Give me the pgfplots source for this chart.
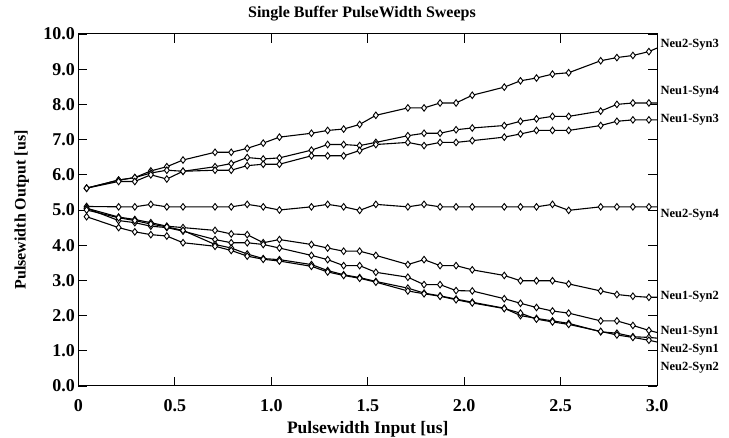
\documentclass[border=0pt]{standalone}
\usepackage{fontspec}
\setmainfont{Liberation Serif}
\usepackage{pgfplots}
\usepackage{pgfplotstable}
\pgfplotsset{compat=1.18}

\pgfplotstableread{
x     n2s3 n1s4 n1s3 n2s4 n1s2 n1s1 n2s1 n2s2
0.042 5.62 5.62 5.62 5.10 5.05 5.05 5.00 4.81
0.208 5.85 5.85 5.81 5.09 4.80 4.70 4.78 4.50
0.292 5.92 5.92 5.81 5.09 4.73 4.64 4.70 4.38
0.375 6.11 6.05 6.00 5.16 4.64 4.54 4.60 4.30
0.458 6.23 6.13 5.88 5.09 4.54 4.50 4.52 4.26
0.542 6.42 6.10 6.10 5.09 4.50 4.40 4.42 4.07
0.708 6.64 6.23 6.13 5.09 4.42 4.16 4.02 3.97
0.792 6.64 6.32 6.13 5.09 4.32 4.07 3.92 3.85
0.875 6.75 6.49 6.26 5.16 4.30 4.07 3.75 3.69
0.958 6.90 6.45 6.30 5.09 4.07 4.02 3.62 3.60
1.042 7.07 6.48 6.30 5.00 4.16 3.92 3.59 3.55
1.208 7.18 6.70 6.54 5.09 4.02 3.71 3.45 3.40
1.292 7.26 6.86 6.54 5.16 3.92 3.59 3.28 3.24
1.375 7.30 6.86 6.54 5.09 3.83 3.42 3.16 3.14
1.458 7.43 6.83 6.69 4.99 3.83 3.42 3.08 3.06
1.542 7.69 6.92 6.86 5.16 3.71 3.23 2.97 2.95
1.708 7.90 7.11 6.92 5.09 3.45 3.09 2.78 2.70
1.792 7.90 7.18 6.83 5.16 3.59 2.88 2.64 2.62
1.875 8.04 7.18 6.92 5.09 3.42 2.88 2.56 2.55
1.958 8.04 7.28 6.92 5.09 3.42 2.71 2.47 2.45
2.042 8.26 7.33 6.97 5.09 3.30 2.70 2.38 2.36
2.208 8.49 7.40 7.07 5.09 3.14 2.48 2.21 2.20
2.292 8.67 7.52 7.16 5.09 2.99 2.35 2.00 2.07
2.375 8.75 7.59 7.26 5.09 2.99 2.23 1.92 1.90
2.458 8.86 7.66 7.26 5.16 2.99 2.13 1.85 1.82
2.542 8.90 7.66 7.26 4.99 2.90 2.07 1.78 1.75
2.708 9.24 7.81 7.40 5.09 2.70 1.85 1.54 1.55
2.792 9.33 8.00 7.52 5.09 2.60 1.85 1.50 1.45
2.875 9.39 8.04 7.56 5.09 2.55 1.72 1.40 1.38
2.958 9.50 8.04 7.56 5.09 2.52 1.58 1.38 1.30
3.000 9.60 8.04 7.56 5.09 2.52 1.52 1.36 1.25
}\data

\begin{document}
\begin{tikzpicture}
\begin{axis}[
  scale only axis, width=578.5pt, height=352pt,
  xmin=0, xmax=3, ymin=0, ymax=10,
  clip=false,
  axis line style={line width=1pt},
  xtick={0,0.5,1,1.5,2,2.5,3},
  xticklabels={0,0.5,1.0,1.5,2.0,2.5,3.0},
  ytick={0,1,2,3,4,5,6,7,8,9,10},
  yticklabels={0.0,1.0,2.0,3.0,4.0,5.0,6.0,7.0,8.0,9.0,10.0},
  tick align=inside, tick pos=both,
  major tick length=9pt,
  tick style={line width=0.9pt, black},
  ticklabel style={font=\bfseries\fontsize{18}{20}\selectfont},
  xticklabel style={yshift=-10pt},
  title={Single Buffer PulseWidth Sweeps},
  title style={at={(axis description cs:0.49,1.04)}, anchor=center, font=\bfseries\fontsize{16}{18}\selectfont},
  xlabel={Pulsewidth Input [us]},
  xlabel style={at={(axis description cs:0.5,-0.123)}, anchor=center, font=\bfseries\fontsize{17.5}{19}\selectfont},
  ylabel={Pulsewidth Output [us]},
  ylabel style={at={(axis description cs:-0.098,0.5)}, anchor=center, font=\bfseries\fontsize{16}{18}\selectfont},
]
\coordinate (bl) at (rel axis cs:0,0);
\pgfplotsinvokeforeach{n2s3,n1s4,n1s3,n2s4,n1s2,n1s1,n2s1,n2s2}{
  \addplot[black, line width=1.1pt, no marks] table[x=x, y=#1]{\data};
  \addplot[only marks, mark=diamond*, mark size=3.3pt,
    mark options={fill=white, draw=black, line width=0.9pt},
    restrict x to domain=0:2.99] table[x=x, y=#1]{\data};
}
\begin{scope}[every node/.style={anchor=west, font=\bfseries\fontsize{12.5}{14}\selectfont, xshift=0pt}]
\node at (axis cs:3,9.69) {Neu2-Syn3};
\node at (axis cs:3,8.35) {Neu1-Syn4};
\node at (axis cs:3,7.56) {Neu1-Syn3};
\node at (axis cs:3,4.86) {Neu2-Syn4};
\node at (axis cs:3,2.53) {Neu1-Syn2};
\node at (axis cs:3,1.53) {Neu1-Syn1};
\node at (axis cs:3,1.02) {Neu2-Syn1};
\node at (axis cs:3,0.51) {Neu2-Syn2};
\end{scope}
\end{axis}
\pgfresetboundingbox
\path[use as bounding box] (bl) ++(-78.5pt,-52pt) rectangle ++(729pt,438pt);
\end{tikzpicture}
\end{document}
